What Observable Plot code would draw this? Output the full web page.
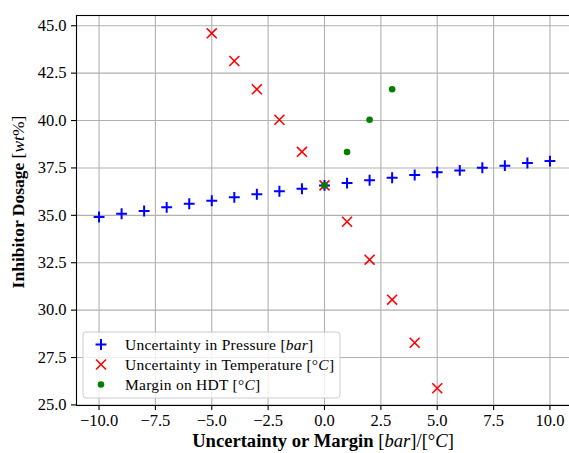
<!DOCTYPE html>
<html><head><meta charset="utf-8">
<script src="https://cdn.jsdelivr.net/npm/d3@7"></script>
<script src="https://cdn.jsdelivr.net/npm/@observablehq/plot@0.6"></script>
<style>body{margin:0;background:#fff} #chart svg{display:block}</style>
</head><body><div id="chart"></div>
<script>
// ---- data ----
const pressureX = [-10,-9,-8,-7,-6,-5,-4,-3,-2,-1,0,1,2,3,4,5,6,7,8,9,10];
const pressureY = [34.91,35.08,35.23,35.42,35.61,35.77,35.95,36.11,36.27,36.40,36.58,36.70,36.85,36.98,37.13,37.27,37.37,37.51,37.62,37.76,37.86];
const tempX = [-5,-4,-3,-2,-1,0,1,2,3,4,5];
const tempY = [44.60,43.14,41.65,40.04,38.35,36.58,34.66,32.66,30.55,28.28,25.88];
const hdtX = [0,1,2,3];
const hdtY = [36.58,38.34,40.04,41.65];
const xTicks = [-10,-7.5,-5,-2.5,0,2.5,5,7.5,10];
const yTicks = [25,27.5,30,32.5,35,37.5,40,42.5,45];
const seriesNames = ["Uncertainty in Pressure [bar]","Uncertainty in Temperature [°C]","Margin on HDT [°C]"];
const seriesColors = ["#0000ff","#ff0000","#008000"];
const xLabel = "Uncertainty or Margin [bar]/[°C]";
const yLabel = "Inhibitor Dosage [wt%]";

const pressure = pressureX.map((x,i)=>({x, y: pressureY[i]}));
const temp = tempX.map((x,i)=>({x, y: tempY[i]}));
const hdt = hdtX.map((x,i)=>({x, y: hdtY[i]}));
const fmt = d3.format(".1f");
const FONT = "Liberation Serif";

const W = 569, H = 453;
const R_PLUS = 3.6, R_TIMES = 4.6, R_DOT = 3.3;
const plot = Plot.plot({
  width: W, height: H,
  marginLeft: 76, marginRight: -3, marginTop: 15, marginBottom: 48,
  style: {fontFamily: FONT, fontSize: "16.5px", background: "white", color: "black"},
  x: {domain: [-11, 11]},
  y: {domain: [24.97, 45.54]},
  marks: [
    Plot.gridX(xTicks, {stroke: "#b0b0b0", strokeOpacity: 1, strokeWidth: 1.1}),
    Plot.gridY(yTicks, {stroke: "#b0b0b0", strokeOpacity: 1, strokeWidth: 1.1}),
    Plot.axisX(xTicks, {tickFormat: fmt, tickSize: 5, tickPadding: 4, label: null, fontSize: 16.5, strokeWidth: 1.1}),
    Plot.axisY(yTicks, {tickFormat: fmt, tickSize: 5, tickPadding: 5, label: null, fontSize: 16.5, strokeWidth: 1.1}),
    Plot.dot(pressure, {x: "x", y: "y", symbol: "plus", r: R_PLUS, stroke: seriesColors[0], strokeWidth: 2}),
    Plot.dot(temp, {x: "x", y: "y", symbol: "times", r: R_TIMES, stroke: seriesColors[1], strokeWidth: 1.6}),
    Plot.dot(hdt, {x: "x", y: "y", symbol: "circle", r: R_DOT, fill: seriesColors[2], stroke: "none"}),
    Plot.frame({stroke: "black", strokeWidth: 1.1})
  ]
});
document.getElementById("chart").appendChild(plot);

// helper: add text with italic math parts inside brackets
function richText(sel, str, bold) {
  const parts = str.split(/(\[[^\]]*\])/);
  parts.forEach(p => {
    if (!p) return;
    if (p.startsWith("[")) {
      const tokens = p.match(/[A-Za-z]+|[^A-Za-z]+/g);
      tokens.forEach(t => {
        const ts = sel.append("tspan").text(t).attr("font-weight", "normal");
        if (/[A-Za-z]/.test(t)) ts.attr("font-style", "italic");
      });
    } else if (p === "/") {
      sel.append("tspan").text(p).attr("font-weight", "normal");
    } else {
      sel.append("tspan").text(p).attr("font-weight", bold ? "bold" : "normal");
    }
  });
}

const svg = d3.select(plot);
// x label
const xl = svg.append("text").attr("x", 323).attr("y", 447).attr("text-anchor", "middle")
  .attr("font-family", FONT).attr("font-size", 18.6).attr("fill", "black");
richText(xl, xLabel, true);
// y label
const yl = svg.append("text").attr("transform", "translate(24,202) rotate(-90)").attr("text-anchor", "middle")
  .attr("font-family", FONT).attr("font-size", 17.5).attr("fill", "black");
richText(yl, yLabel, true);

// legend
const lg = svg.append("g").attr("text-anchor", "start");
lg.append("rect").attr("x", 83).attr("y", 332).attr("width", 257).attr("height", 66)
  .attr("rx", 3).attr("fill", "white").attr("fill-opacity", 0.8).attr("stroke", "#cccccc").attr("stroke-width", 1);
const rowY = [344.5, 364.5, 384.5];
seriesNames.forEach((name, i) => {
  const cx = 101, cy = rowY[i];
  if (i === 0) {
    lg.append("path").attr("d", d3.symbol(d3.symbolPlus, R_PLUS*R_PLUS*Math.PI)()).attr("transform", `translate(${cx},${cy})`)
      .attr("fill", "none").attr("stroke", seriesColors[0]).attr("stroke-width", 2);
  } else if (i === 1) {
    lg.append("path").attr("d", d3.symbol(d3.symbolTimes, R_TIMES*R_TIMES*Math.PI)()).attr("transform", `translate(${cx},${cy})`)
      .attr("fill", "none").attr("stroke", seriesColors[1]).attr("stroke-width", 1.6);
  } else {
    lg.append("circle").attr("cx", cx).attr("cy", cy).attr("r", R_DOT).attr("fill", seriesColors[2]);
  }
  const t = lg.append("text").attr("x", 125).attr("y", cy + 5).attr("text-anchor", "start").attr("font-family", FONT)
    .attr("font-size", 15.5).attr("letter-spacing", 0.25).attr("fill", "black");
  richText(t, name, false);
});
</script></body></html>
